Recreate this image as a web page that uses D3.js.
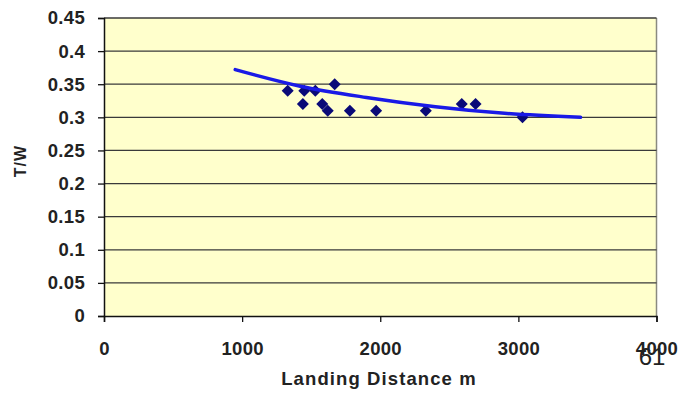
<!DOCTYPE html>
<html><head><meta charset="utf-8">
<script src="https://cdn.jsdelivr.net/npm/d3@7"></script>
<style>body{margin:0;background:#fff}svg{display:block}text{font-family:"Liberation Sans",Arial,sans-serif}</style>
</head><body>
<svg id="c" width="684" height="405"></svg>
<script>
const landingDistance = [1330,1440,1450,1530,1580,1620,1670,1780,1970,2330,2590,2690,3030];
const thrustWeight   = [0.34,0.32,0.34,0.34,0.32,0.31,0.35,0.31,0.31,0.31,0.32,0.32,0.30];
const trendX = [950,1420,1900,2400,2900,3450];
const trendY = [0.372,0.347,0.330,0.316,0.306,0.300];
const xTicks = [0,1000,2000,3000,4000];
const yTicks = [0,0.05,0.1,0.15,0.2,0.25,0.3,0.35,0.4,0.45];

const svg = d3.select("#c");
const L=104, R=656.5, T=18, B=316;
const x = d3.scaleLinear().domain([0,4000]).range([L,R]);
const y = d3.scaleLinear().domain([0,0.45]).range([B,T]);

svg.append("rect").attr("x",L).attr("y",T).attr("width",R-L).attr("height",B-T).attr("fill","#FFFFCC");
svg.append("line").attr("x1",R).attr("x2",R).attr("y1",T).attr("y2",B).attr("stroke","#8a8a80").attr("stroke-width",1.5);
svg.append("g").selectAll("line").data(yTicks.slice(1)).join("line")
  .attr("x1",L).attr("x2",R).attr("y1",d=>y(d)).attr("y2",d=>y(d))
  .attr("stroke","#3a3a3a").attr("stroke-width",1.3);

const yAxis = svg.append("g").attr("transform",`translate(${L},0)`)
  .call(d3.axisLeft(y).tickValues(yTicks).tickSize(6).tickPadding(13).tickFormat(d=>String(+d.toFixed(2))));
const xAxis = svg.append("g").attr("transform",`translate(0,${B})`)
  .call(d3.axisBottom(x).tickValues(xTicks).tickSize(6).tickFormat(d3.format("d")));
[yAxis,xAxis].forEach(g=>{
  g.select(".domain").attr("stroke","#111").attr("stroke-width",1.5);
  g.selectAll(".tick line").attr("stroke","#111").attr("stroke-width",1.3);
  g.selectAll("text").attr("font-size",18.5).attr("font-weight","bold").attr("fill","#222")
   .attr("letter-spacing",0.3).attr("font-family","'Liberation Sans',Arial,sans-serif");
});
xAxis.selectAll("text").attr("y",39).attr("dy",0);

const pts = landingDistance.map((d,i)=>({x:d,y:thrustWeight[i]}));
svg.append("g").selectAll("path").data(pts).join("path")
  .attr("d",d3.symbol(d3.symbolSquare,72))
  .attr("transform",d=>`translate(${x(d.x)},${y(d.y)}) rotate(45)`)
  .attr("fill","#0a0a78");

const trend = trendX.map((d,i)=>[d,trendY[i]]);
svg.append("path").datum(trend)
  .attr("d",d3.line().x(d=>x(d[0])).y(d=>y(d[1])).curve(d3.curveMonotoneX))
  .attr("fill","none").attr("stroke","#1a1ae6").attr("stroke-width",3.5).attr("stroke-linecap","round");

svg.append("text").attr("transform","translate(26,161) rotate(-90)").attr("text-anchor","middle")
  .attr("font-size",16).attr("font-weight","bold").attr("letter-spacing",1).attr("fill","#222").text("T/W");
svg.append("text").attr("x",379).attr("y",385).attr("text-anchor","middle")
  .attr("font-size",18.5).attr("font-weight","bold").attr("letter-spacing",1.1).attr("fill","#222").text("Landing Distance m");
svg.append("text").attr("x",652).attr("y",365).attr("text-anchor","middle")
  .attr("font-size",24).attr("fill","#222").text("61");
</script>
</body></html>
